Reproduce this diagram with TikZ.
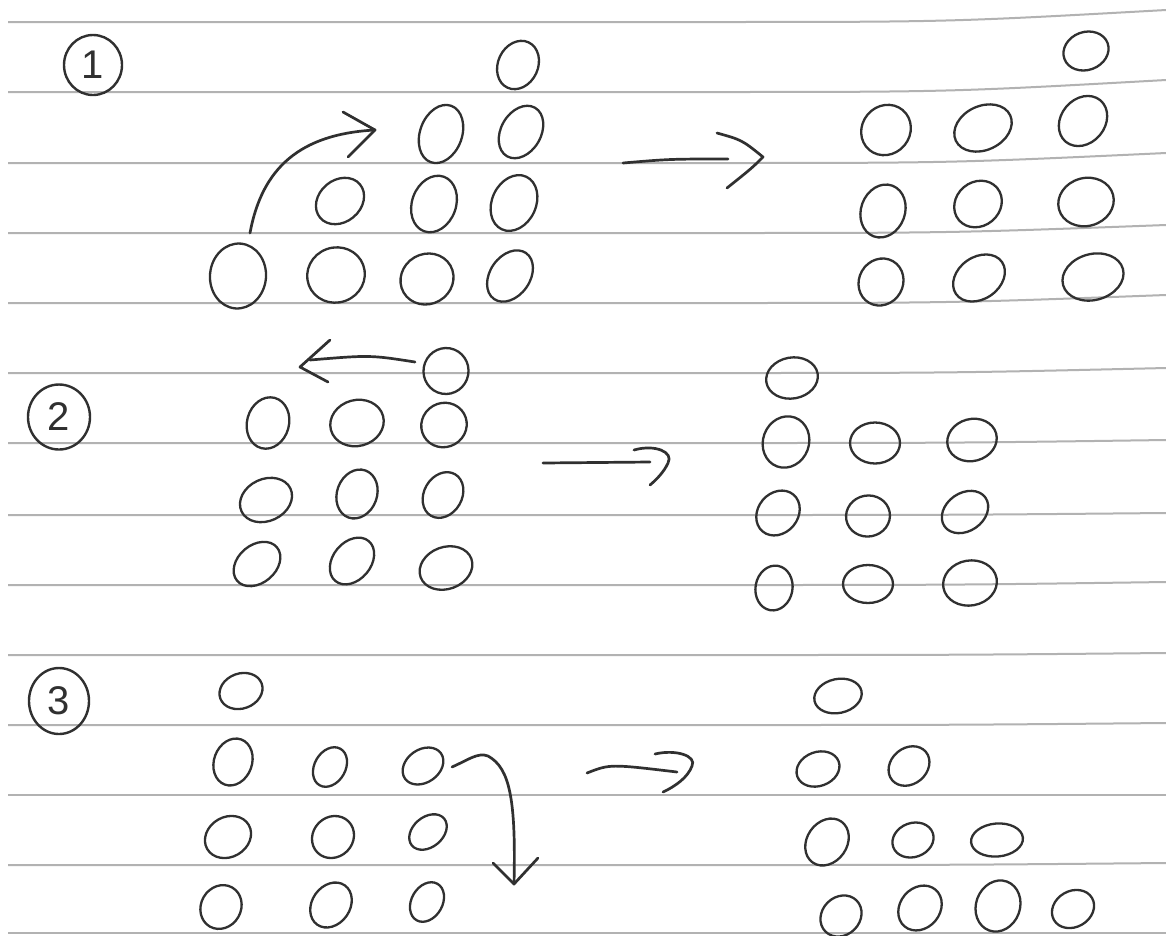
\documentclass[tikz,border=0pt]{standalone}
\usepackage{fontspec}
\setmainfont{Liberation Sans}
\usetikzlibrary{shapes.geometric}
\definecolor{ink}{RGB}{48,48,48}
\definecolor{ruled}{RGB}{178,178,178}
\newcommand\blob[6]{\node[blob, minimum width=#4pt, minimum height=#5pt, rotate=#6] (#1) at (#2,#3) {};}
\begin{document}
\begin{tikzpicture}[x=1pt,y=-1pt,
  blob/.style={ellipse, draw=ink, line width=2.3pt, inner sep=0pt},
  rule/.style={draw=ruled, line width=2pt},
  pen/.style={draw=ink, line width=2.7pt, line cap=round, line join=round},
  numcirc/.style={ellipse, draw=ink, line width=2.4pt, inner sep=0pt, text=ink, font=\fontsize{40}{40}\selectfont}]
\useasboundingbox (0,0) rectangle (1166,935);
\fill[white] (0,0) rectangle (1166,935);
% ruled paper
\foreach \yl/\yr in {22/10, 92/80, 163/153, 233/225, 303/295, 373/368, 443/440, 515/513, 585/582, 655/653, 725/723, 795/795, 865/863, 933/933}
  \draw[rule] (8,\yl) -- (700,\yl) .. controls (950,\yl) .. (1166,\yr);
% circled numbers
\node[numcirc, minimum width=58pt, minimum height=60pt] (n1) at (93,65) {1};
\node[numcirc, minimum width=62pt, minimum height=65pt] (n2) at (59,417) {2};
\node[numcirc, minimum width=60pt, minimum height=66pt] (n3) at (59,701) {3};
% ---- section 1, left
\blob{p1t}{518}{65}{50}{40}{65}
\blob{p1r2a}{441}{134}{60}{42}{70}
\blob{p1r2b}{521}{132}{56}{40}{60}
\blob{p1r3a}{340}{201}{52}{42}{40}
\blob{p1r3b}{434}{204}{58}{44}{70}
\blob{p1r3c}{514}{203}{58}{44}{65}
\blob{p1r4a}{238}{276}{65}{56}{85}
\blob{p1r4b}{336}{275}{58}{55}{20}
\blob{p1r4c}{427}{279}{54}{50}{30}
\blob{p1r4d}{510}{276}{56}{40}{55}
% ---- section 1, right
\blob{q1t}{1086}{51}{46}{38}{20}
\blob{q1r2a}{886}{130}{52}{48}{50}
\blob{q1r2b}{983}{128}{60}{44}{25}
\blob{q1r2c}{1083}{121}{54}{44}{50}
\blob{q1r3a}{883}{211}{54}{44}{70}
\blob{q1r3b}{978}{204}{50}{44}{40}
\blob{q1r3c}{1086}{202}{56}{48}{15}
\blob{q1r4a}{881}{282}{48}{44}{60}
\blob{q1r4b}{979}{278}{56}{42}{35}
\blob{q1r4c}{1093}{277}{62}{46}{15}
% ---- section 2, left
\blob{p2t}{446}{371}{46}{45}{80}
\blob{p2r2a}{268}{423}{52}{42}{75}
\blob{p2r2b}{357}{423}{54}{46}{15}
\blob{p2r2c}{444}{425}{46}{44}{30}
\blob{p2r3a}{266}{500}{54}{42}{25}
\blob{p2r3b}{357}{494}{50}{40}{70}
\blob{p2r3c}{443}{495}{48}{38}{60}
\blob{p2r4a}{257}{564}{52}{38}{40}
\blob{p2r4b}{352}{561}{52}{38}{50}
\blob{p2r4c}{446}{568}{54}{42}{20}
% ---- section 2, right
\blob{q2t}{792}{378}{52}{41}{10}
\blob{q2r2a}{786}{442}{52}{46}{70}
\blob{q2r2b}{875}{443}{50}{41}{0}
\blob{q2r2c}{972}{440}{50}{42}{15}
\blob{q2r3a}{778}{513}{48}{40}{50}
\blob{q2r3b}{868}{516}{44}{41}{10}
\blob{q2r3c}{965}{512}{50}{38}{35}
\blob{q2r4a}{774}{588}{45}{37}{80}
\blob{q2r4b}{868}{584}{50}{38}{0}
\blob{q2r4c}{970}{583}{54}{45}{10}
% ---- section 3, left
\blob{p3t}{241}{691}{44}{35}{20}
\blob{p3r2a}{233}{762}{48}{38}{70}
\blob{p3r2b}{330}{767}{42}{31}{60}
\blob{p3r2c}{423}{766}{44}{33}{35}
\blob{p3r3a}{228}{837}{48}{40}{30}
\blob{p3r3b}{333}{837}{44}{40}{45}
\blob{p3r3c}{428}{832}{42}{30}{40}
\blob{p3r4a}{221}{907}{45}{40}{60}
\blob{p3r4b}{331}{905}{48}{38}{55}
\blob{p3r4c}{427}{902}{42}{31}{60}
% ---- section 3, right
\blob{q3t}{838}{696}{48}{34}{12}
\blob{q3r2a}{818}{769}{44}{34}{20}
\blob{q3r2b}{909}{766}{44}{36}{40}
\blob{q3r3a}{827}{842}{50}{40}{55}
\blob{q3r3b}{913}{840}{42}{34}{20}
\blob{q3r3c}{997}{840}{52}{33}{5}
\blob{q3r4a}{841}{916}{44}{38}{45}
\blob{q3r4b}{920}{908}{48}{40}{50}
\blob{q3r4c}{998}{906}{52}{44}{70}
\blob{q3r4d}{1073}{909}{44}{36}{30}
% ---- arrows
% section 1: curved move
\coordinate (a1s) at (250,233);
\coordinate (h1) at (375,130);
\draw[pen] (a1s) .. controls (262,168) and (300,134) .. (h1);
\draw[pen] (h1) ++(-32,-18) -- (h1) -- ++(-27,27);
% section 1: to result
\coordinate (m1s) at (623,163);
\coordinate (m1e) at (728,159);
\coordinate (m1h) at (717,133);
\coordinate (m1t) at (763,157);
\draw[pen] (m1s) .. controls (670,159) .. (m1e);
\draw[pen] (m1h) .. controls (742,140) .. (m1t) .. controls (752,168) .. (727,188);
% section 2: leftward move
\coordinate (a2s) at (415,362);
\coordinate (h2) at (300,367);
\draw[pen] (a2s) .. controls (370,355) .. (310,360);
\draw[pen] (330,340) -- (h2) -- (328,382);
% section 2: to result
\coordinate (m2s) at (543,463);
\coordinate (m2e) at (650,462);
\draw[pen] (m2s) -- (m2e);
\draw[pen] (634,450) .. controls (655,444) and (674,452) .. (668,463) .. controls (664,472) and (656,480) .. (650,485);
% section 3: downward move
\coordinate (a3s) at (452,767);
\coordinate (h3) at (514,884);
\draw[pen] (a3s) .. controls (468,760) and (478,752) .. (488,756) .. controls (510,768) and (516,800) .. (h3);
\draw[pen] (493,863) -- (h3) -- (538,858);
% section 3: to result
\coordinate (m3s) at (587,773);
\coordinate (m3e) at (677,772);
\draw[pen] (m3s) .. controls (610,764) .. (m3e);
\draw[pen] (655,754) .. controls (676,749) and (697,756) .. (692,766) .. controls (688,777) and (676,786) .. (663,792);
\end{tikzpicture}
\end{document}
